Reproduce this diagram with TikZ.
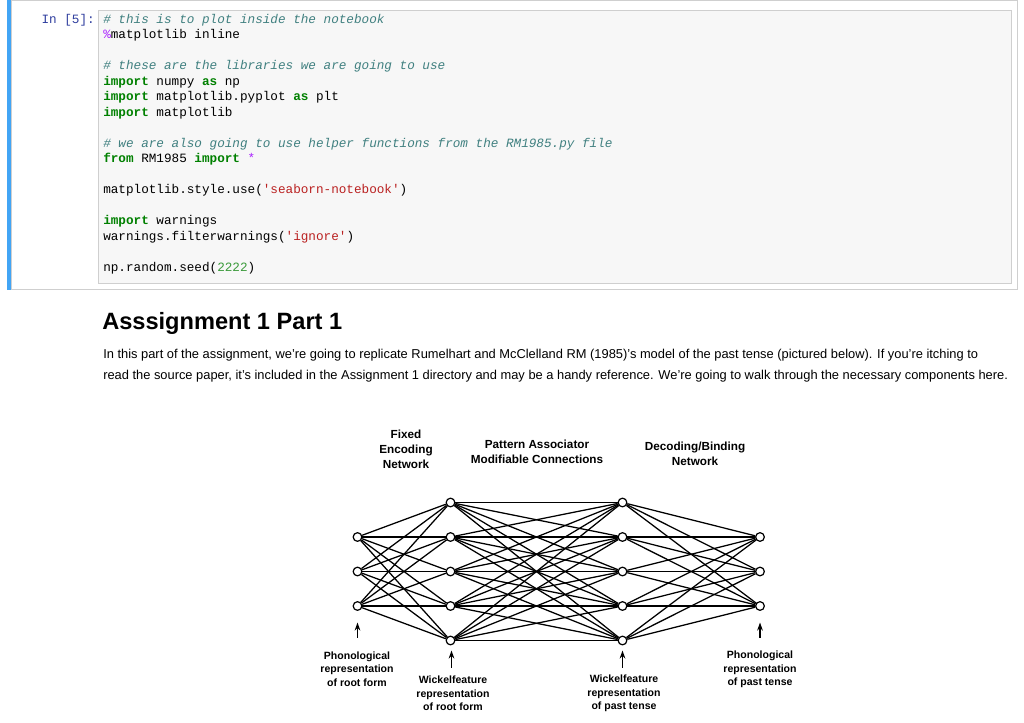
\documentclass[tikz,border=0pt]{standalone}
\usepackage{fontspec}
\setmainfont{Liberation Sans}
\newfontfamily\codefont{Liberation Mono}
\usepackage{xcolor}
\usetikzlibrary{arrows.meta}
\definecolor{prompt}{HTML}{303F9F}
\definecolor{comment}{HTML}{408080}
\definecolor{keyword}{HTML}{008000}
\definecolor{pystring}{HTML}{BA2121}
\definecolor{number}{HTML}{3A9A3A}
\definecolor{magic}{HTML}{AA22FF}
\definecolor{cellbg}{HTML}{F7F7F7}
\definecolor{cellline}{HTML}{CFCFCF}
\definecolor{selbar}{HTML}{42A5F5}
\newcommand{\pykw}[1]{{\bfseries\color{keyword}#1}}
\newcommand{\pycmt}[1]{{\itshape\color{comment}#1}}
\newcommand{\pystr}[1]{{\color{pystring}#1}}

\begin{document}
\begin{tikzpicture}[x=0.75pt,y=-0.75pt,
    codeline/.style={anchor=west,inner sep=0pt,text height=7pt,text depth=2pt,
                     font=\codefont\fontsize{9.5}{11}\selectfont},
    unit/.style={circle,draw,fill=white,line width=0.9pt,inner sep=0pt,minimum size=6.5pt},
    link/.style={line width=0.95pt},
    feed/.style={line width=1pt,-{Stealth[length=6pt,width=4.2pt]}},
    toplabel/.style={align=center,inner sep=0pt,font=\bfseries\fontsize{8.8}{11.2}\selectfont},
    botlabel/.style={align=center,inner sep=0pt,font=\bfseries\fontsize{7.9}{10.1}\selectfont}]
	\fill[white] (0,0) rectangle (1024,717); % page
	% notebook cell
	\draw[cellline,line width=0.75pt] (11,-5) rectangle (1017,283.5);
	\fill[selbar] (7,-5) rectangle (11,284.5);
	\draw[cellline,fill=cellbg,line width=0.75pt] (98.5,5) rectangle (1011.5,278);
	\node[codeline,anchor=east,text=prompt] (prompt) at (95,14.5) {In [5]:};
	\node[codeline] (c1) at (103,14.5) {\pycmt{\# this is to plot inside the notebook}};
	\node[codeline] (c2) at (103,30) {{\color{magic}\%}matplotlib inline};
	\node[codeline] (c4) at (103,61) {\pycmt{\# these are the libraries we are going to use}};
	\node[codeline] (c5) at (103,76.5) {\pykw{import} numpy \pykw{as} np};
	\node[codeline] (c6) at (103,92) {\pykw{import} matplotlib.pyplot \pykw{as} plt};
	\node[codeline] (c7) at (103,107.5) {\pykw{import} matplotlib};
	\node[codeline] (c9) at (103,138.5) {\pycmt{\# we are also going to use helper functions from the RM1985.py file}};
	\node[codeline] (c10) at (103,154) {\pykw{from} RM1985 \pykw{import} {\color{magic}*}};
	\node[codeline] (c12) at (103,185) {matplotlib.style.use(\pystr{'seaborn-notebook'})};
	\node[codeline] (c14) at (103,216) {\pykw{import} warnings};
	\node[codeline] (c15) at (103,231.5) {warnings.filterwarnings(\pystr{'ignore'})};
	\node[codeline] (c17) at (103,262.5) {np.random.seed({\color{number}2222})};
	% markdown cell
	\node[anchor=west,inner sep=0pt,font=\bfseries\fontsize{17.7}{20}\selectfont] (title) at (102,318) {Asssignment 1 Part 1};
	\node[anchor=north west,inner sep=0pt,align=left,font=\fontsize{9.65}{15.6}\selectfont] (para) at (103,343.5)
	  {In this part of the assignment, we're going to replicate Rumelhart and McClelland RM (1985)'s model of the past tense (pictured below). If you're itching to\\
	   read the source paper, it's included in the Assignment 1 directory and may be a handy reference. We're going to walk through the necessary components here.};
	% the network
	\foreach \i in {1,2,3} \node[unit] (pr\i) at (357.5,497+\i*34.5) {};
	\foreach \i in {1,...,5} \node[unit] (wr\i) at (450.5,497+\i*34.5-34.5) {};
	\foreach \i in {1,...,5} \node[unit] (wp\i) at (622.5,497+\i*34.5-34.5) {};
	\foreach \i in {1,2,3} \node[unit] (pp\i) at (760,497+\i*34.5) {};
	\foreach \i in {1,2,3} \foreach \j in {1,...,5} \draw[link] (pr\i) -- (wr\j);
	\foreach \i in {1,...,5} \foreach \j in {1,...,5} \draw[link] (wr\i) -- (wp\j);
	\foreach \i in {1,...,5} \foreach \j in {1,2,3} \draw[link] (wp\i) -- (pp\j);
	% input arrows
	\coordinate (prin) at (357.5,632); \coordinate (prtip) at (357.5,617);
	\coordinate (ppin) at (760,632);   \coordinate (pptip) at (760,617);
	\coordinate (wrin) at (451.5,662); \coordinate (wrtip) at (451.5,645);
	\coordinate (wpin) at (622.5,662); \coordinate (wptip) at (622.5,645);
	\draw[feed] (prin) -- (prtip);
	\draw[feed] (ppin) -- (pptip);
	\draw[feed] (wrin) -- (wrtip);
	\draw[feed] (wpin) -- (wptip);
	% labels
	\node[toplabel] (fixed) at (406,444) {Fixed\\Encoding\\Network};
	\node[toplabel] (assoc) at (537,446.5) {Pattern Associator\\Modifiable Connections};
	\node[toplabel] (decode) at (695,448) {Decoding/Binding\\Network};
	\node[botlabel] (phonroot) at (357,663.5) {Phonological\\representation\\of root form};
	\node[botlabel] (wickroot) at (453,688) {Wickelfeature\\representation\\of root form};
	\node[botlabel] (wickpast) at (624,688) {Wickelfeature\\representation\\of past tense};
	\node[botlabel] (phonpast) at (760,664) {Phonological\\representation\\of past tense};
\end{tikzpicture}
\end{document}
